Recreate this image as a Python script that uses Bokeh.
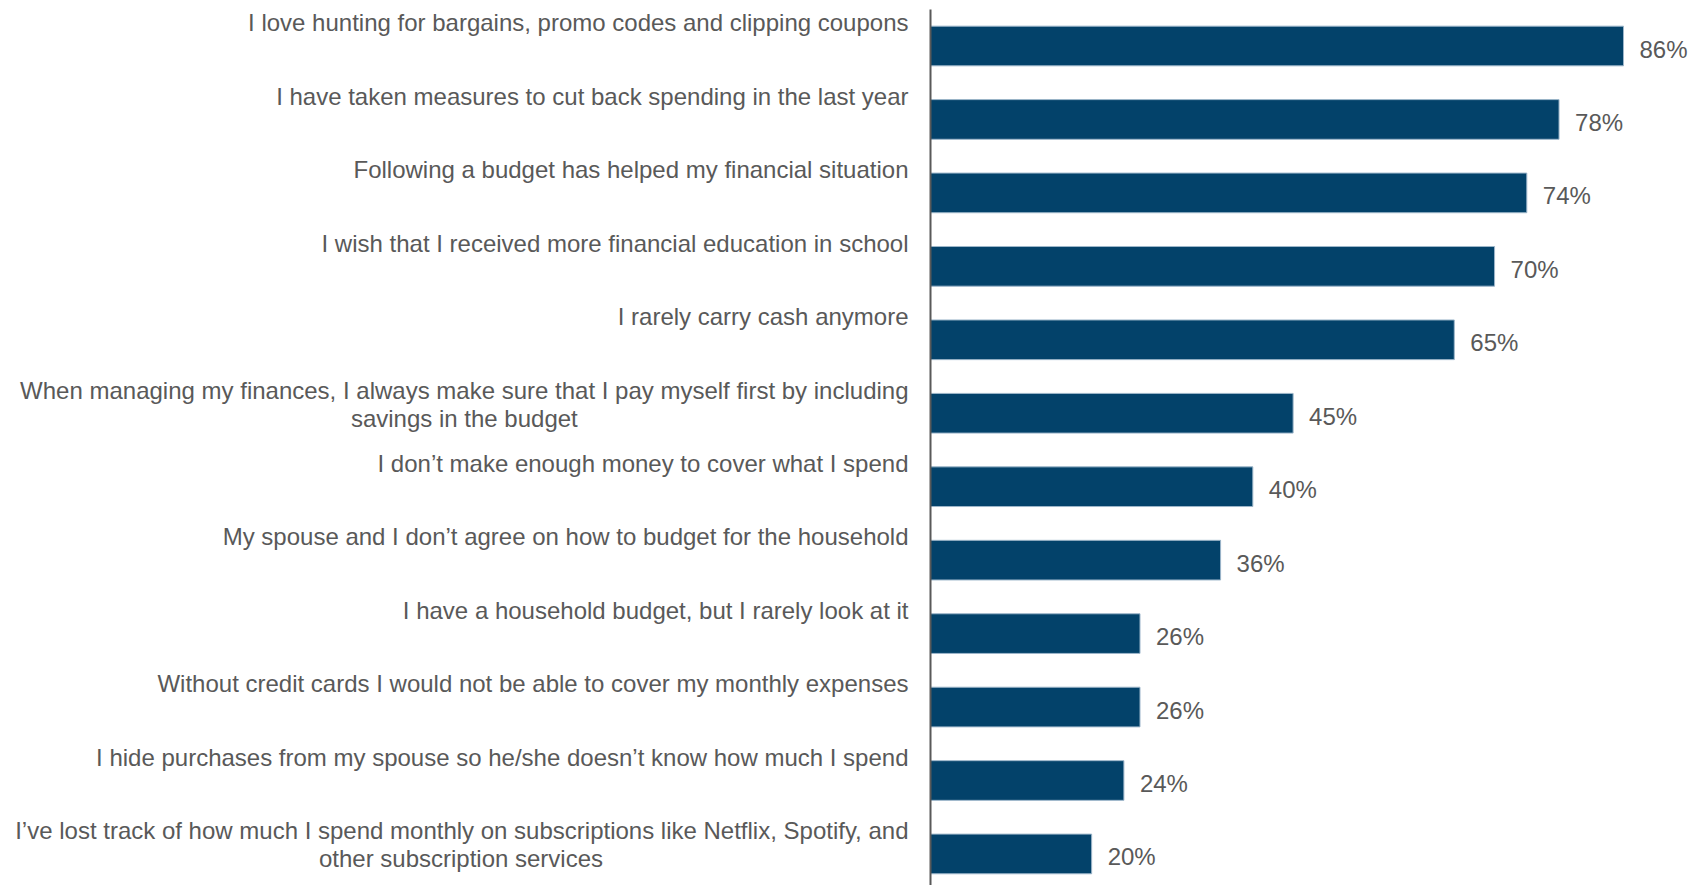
from bokeh.plotting import figure
from bokeh.models import Range1d, ColumnDataSource
from bokeh.core.properties import value
from bokeh.embed import file_html
from bokeh.resources import INLINE

# ---------------- data ----------------
statements = [
    "I love hunting for bargains, promo codes and clipping coupons",
    "I have taken measures to cut back spending in the last year",
    "Following a budget has helped my financial situation",
    "I wish that I received more financial education in school",
    "I rarely carry cash anymore",
    "When managing my finances, I always make sure that I pay myself first by including\nsavings in the budget",
    "I don’t make enough money to cover what I spend",
    "My spouse and I don’t agree on how to budget for the household",
    "I have a household budget, but I rarely look at it",
    "Without credit cards I would not be able to cover my monthly expenses",
    "I hide purchases from my spouse so he/she doesn’t know how much I spend",
    "I’ve lost track of how much I spend monthly on subscriptions like Netflix, Spotify, and\nother subscription services",
]
percent = [86, 78, 74, 70, 65, 45, 40, 36, 26, 26, 24, 20]

# ---------------- styling ----------------
W, H = 1699, 885
FONT = "Liberation Sans"
FS = 24
TEXT_COLOR = "#595959"
BAR_COLOR = "#03426A"
AXIS_PX = 930          # screen x of the value axis
PX_PER_UNIT = 693 / 86  # pixels per percentage point
BAND_PX = 73.45
FIRST_CENTER_PX = 45.5
BAR_FRAC = 0.54
LABEL_GAP = 22
VALUE_GAP = 16
AXIS_TOP_PX = 9

# Arial / Liberation Sans advance widths (per 1000 em)
AW = {" ": 278, ",": 278, "’": 222, "/": 278, "%": 889, "I": 278, "W": 944,
      "N": 722, "S": 667, "F": 611, "M": 833,
      "a": 556, "b": 556, "c": 500, "d": 556, "e": 556, "f": 278, "g": 556,
      "h": 556, "i": 222, "j": 222, "k": 500, "l": 222, "m": 833, "n": 556,
      "o": 556, "p": 556, "q": 556, "r": 333, "s": 500, "t": 278, "u": 556,
      "v": 500, "w": 722, "x": 500, "y": 500, "z": 500}


def text_w(s):
    return sum(AW.get(c, 556) for c in s) * FS / 1000.0


n = len(statements)
ys = list(range(n))

x_start = -AXIS_PX / PX_PER_UNIT
x_end = (W - AXIS_PX) / PX_PER_UNIT
y_top = -FIRST_CENTER_PX / BAND_PX
y_bottom = (H - FIRST_CENTER_PX) / BAND_PX

p = figure(width=W, height=H, output_backend="svg", toolbar_location=None,
           x_range=Range1d(x_start, x_end), y_range=Range1d(y_bottom, y_top),
           min_border=0, outline_line_color=None)
p.xaxis.visible = False
p.yaxis.visible = False
p.grid.visible = False
p.background_fill_color = "white"
p.border_fill_color = "white"

src = ColumnDataSource(dict(y=ys, v=percent, lab=[f"{v}%" for v in percent]))
p.hbar(y="y", left=0, right="v", height=BAR_FRAC, source=src,
       fill_color=BAR_COLOR, line_color="#9db6ca", line_width=1)

p.text(x="v", y="y", text="lab", source=src, x_offset=VALUE_GAP, y_offset=3,
       text_align="left", text_baseline="middle", text_color=TEXT_COLOR,
       text_font=value(FONT), text_font_size=f"{FS}px")

# category labels: first line right aligned, further lines centred under it
lx, ly, lt = [], [], []
cx, cy, ct, co, lo = [], [], [], [], []
for i, s in enumerate(statements):
    lines = s.split("\n")
    lx.append(0); ly.append(i - 0.5); lt.append(lines[0])
    w1 = text_w(lines[0])
    for k, ln in enumerate(lines[1:], start=1):
        cx.append(0); cy.append(i - 0.5); ct.append(ln)
        co.append(-LABEL_GAP - w1 / 2.0)
        lo.append(k)

p.text(x=lx, y=ly, text=lt, x_offset=-LABEL_GAP, y_offset=0,
       text_align="right", text_baseline="top", text_color=TEXT_COLOR,
       text_font=value(FONT), text_font_size=f"{FS}px")
p.text(x=cx, y=cy, text=ct, x_offset=co, y_offset=[28 * k for k in lo],
       text_align="center", text_baseline="top", text_color=TEXT_COLOR,
       text_font=value(FONT), text_font_size=f"{FS}px")

# value axis line (starts just above the first band)
axis_top = y_top + AXIS_TOP_PX / BAND_PX
p.segment(x0=[0], y0=[axis_top], x1=[0], y1=[y_bottom], line_color="#595959",
          line_width=2)

open("out.html", "w").write(file_html(p, INLINE))
